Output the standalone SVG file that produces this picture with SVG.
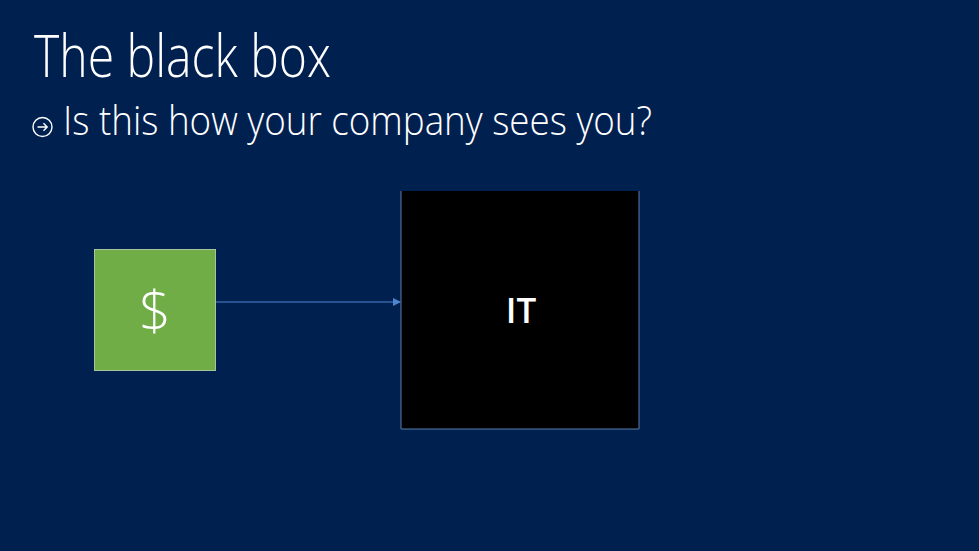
<svg xmlns="http://www.w3.org/2000/svg" width="979" height="551" viewBox="0 0 979 551">
<style>
.title{font-family:"Open Sans","Noto Sans","Liberation Sans",sans-serif;font-weight:300;fill:#ffffff}
.lbl{font-family:"Open Sans","Noto Sans","Liberation Sans",sans-serif;fill:#ffffff;text-anchor:middle}
.conn{stroke:#4f86d0;stroke-width:1.2;fill:none}
</style>
<defs>
<marker id="ah" markerWidth="8" markerHeight="8" refX="7" refY="4" orient="auto" markerUnits="userSpaceOnUse">
<path d="M0,0 L8,4 L0,8 Z" fill="#4f86d0"/>
</marker>
</defs>
<rect width="979" height="551" fill="#002050"/>
<text class="title" x="34" y="77" font-size="58" textLength="297" lengthAdjust="spacingAndGlyphs">The black box</text>
<g id="bullet">
<circle cx="42.5" cy="127" r="9.5" fill="none" stroke="#ffffff" stroke-width="1.4"/>
<path d="M37.5,127 H47 M43.5,123.2 L47.2,127 L43.5,130.8" fill="none" stroke="#ffffff" stroke-width="1.4"/>
</g>
<text class="title" x="63" y="135" font-size="40" textLength="589" lengthAdjust="spacingAndGlyphs">Is this how your company sees you?</text>
<g id="connectors">
<line class="conn" x1="216" y1="302" x2="400" y2="302" marker-end="url(#ah)"/>
</g>
<g id="money">
<rect x="94.5" y="249.5" width="121" height="121" fill="#70ad47" stroke="#a7c49a" stroke-width="1"/>
<text class="lbl" x="155" y="330" font-size="56" font-weight="300">$</text>
</g>
<g id="it">
<rect x="401" y="191" width="238" height="238" fill="#000000"/>
<path d="M401,191 V429 H639 V191" fill="none" stroke="#5a7fae" stroke-width="1"/>
<text class="lbl" x="521" y="323" font-size="35" font-weight="600">IT</text>
</g>
</svg>
